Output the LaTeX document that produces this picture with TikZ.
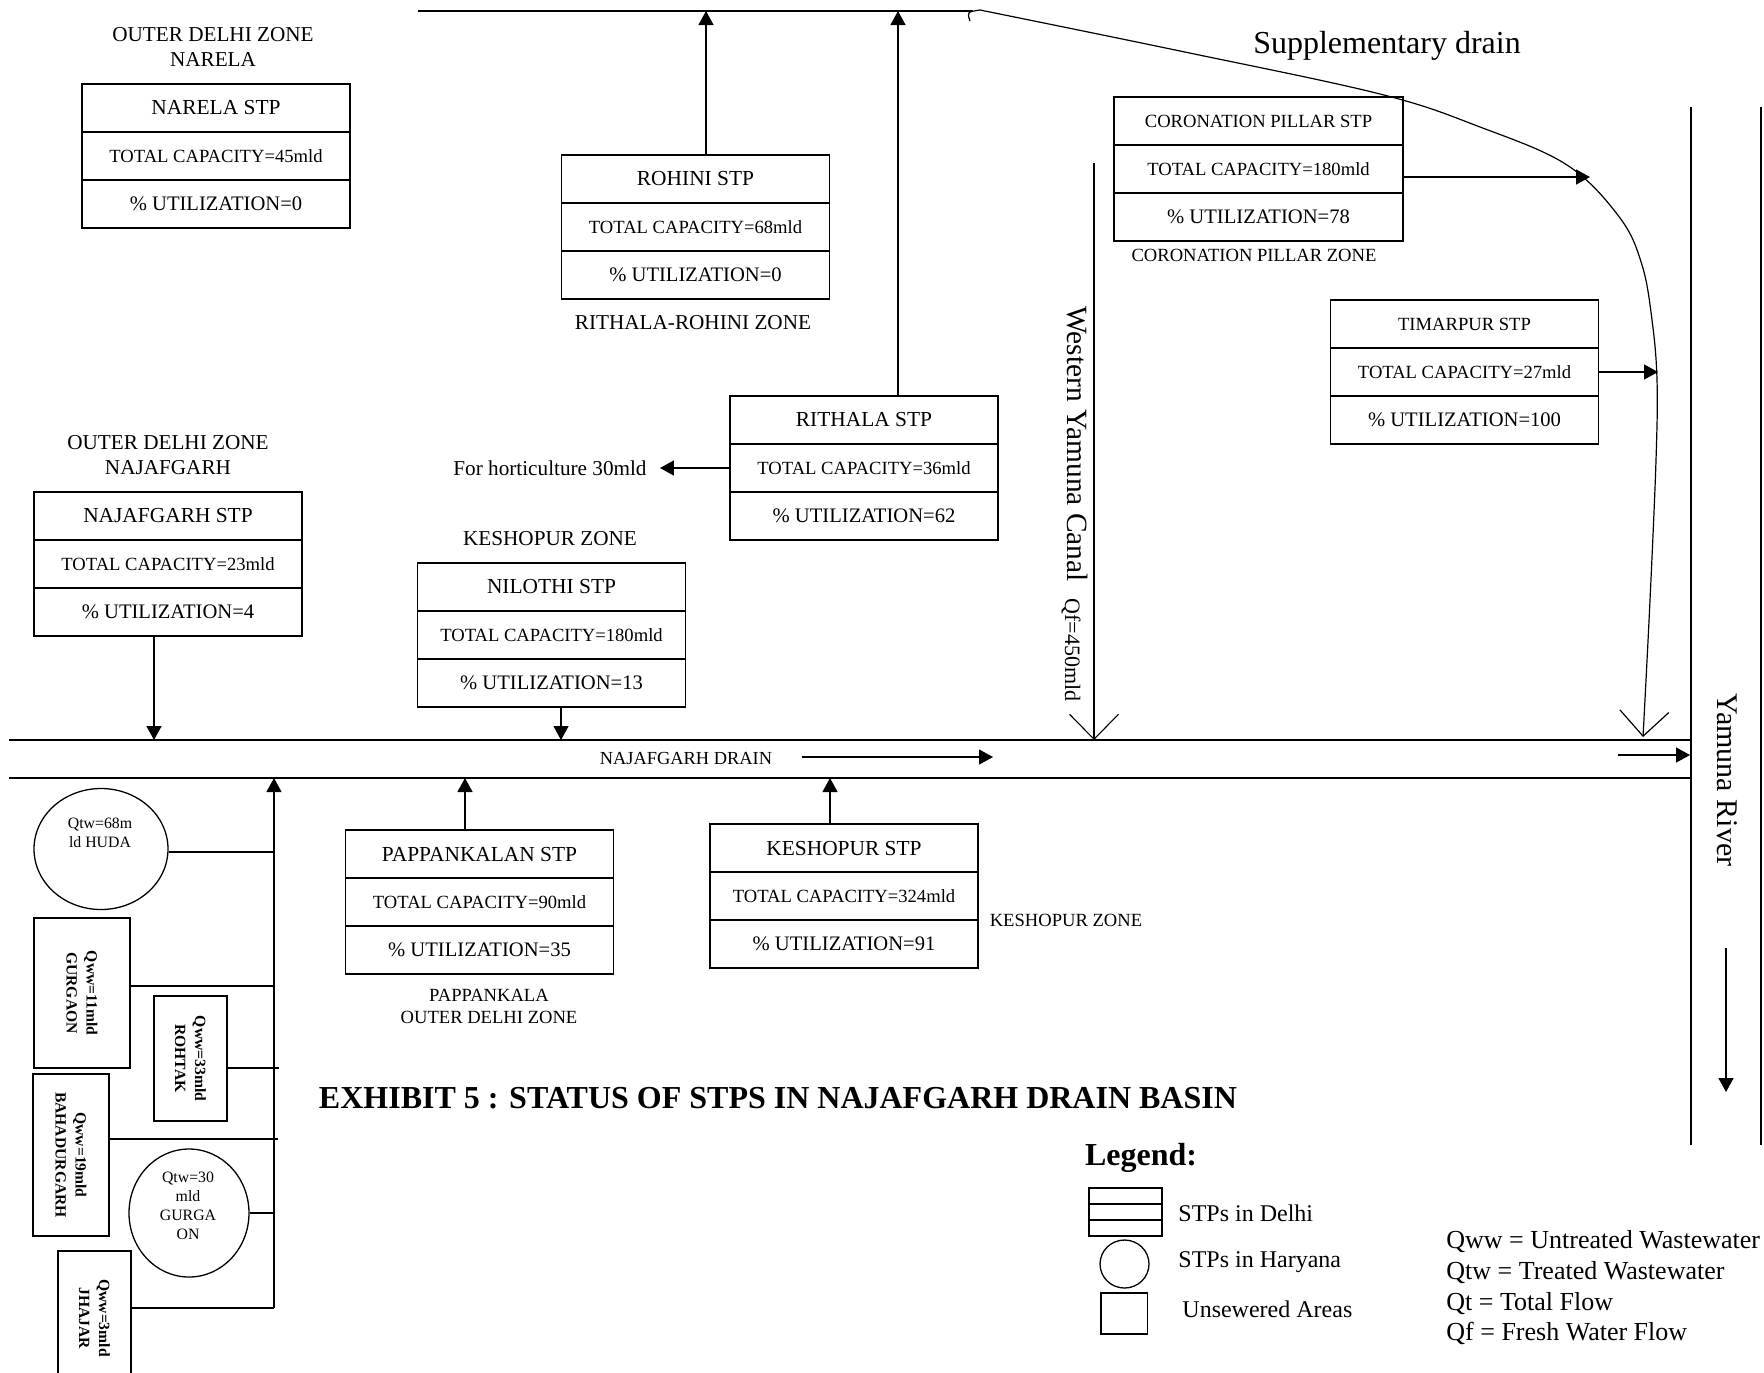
\documentclass[tikz,border=0pt]{standalone}
\usepackage{fontspec}
\setmainfont{Liberation Serif}
\usetikzlibrary{arrows.meta,positioning,shapes.geometric}
\tikzset{
  stprow/.style={
    draw,
    line width=0.65pt,
    minimum width=134pt,
    minimum height=24pt,
    inner sep=1pt,
    outer sep=0pt
  },
  stptitle/.style={font=\fontsize{10.7}{12}\selectfont},
  stpcap/.style={font=\fontsize{9.3}{11}\selectfont},
  stputil/.style={font=\fontsize{10.3}{12}\selectfont},
  zone/.style={font=\fontsize{10.6}{12.5}\selectfont, align=center, inner sep=0pt},
  zonesmall/.style={font=\fontsize{9.3}{11}\selectfont, align=center, inner sep=0pt},
  flow/.style={line width=0.65pt, -{Triangle[length=7pt,width=7.5pt]}},
  openflow/.style={line width=0.55pt, -{Straight Barb[length=12.5pt,width=24.5pt]}},
  drainline/.style={line width=0.85pt},
  hsite/.style={draw, ellipse, line width=0.65pt, inner sep=0pt},
  unsew/.style={draw, rectangle, line width=0.8pt, inner sep=0pt},
  rtext/.style={rotate=-90, align=center, font=\bfseries\fontsize{7.8}{10}\selectfont, inner sep=0pt},
  htext/.style={align=center, font=\fontsize{7.9}{9.5}\selectfont, inner sep=0pt},
  legtext/.style={anchor=west, inner sep=0pt, font=\fontsize{12}{14}\selectfont}
}
% one STP box = three stacked rows
\newcommand{\stpbox}[6][]{%
  \node[stprow,stptitle,#1,anchor=north] (#2-t) at (#3) {#4};
  \node[stprow,stpcap,#1,below=0pt of #2-t] (#2-c) {#5};
  \node[stprow,stputil,#1,below=0pt of #2-c] (#2-u) {#6};
}
\newcommand{\smallttl}{\fontsize{9.3}{11}\selectfont}

\begin{document}
\begin{tikzpicture}[x=0.5pt, y=-0.5pt]
  \useasboundingbox (0,0) rectangle (1764,1372);
  \clip (0,0) rectangle (1764,1372);

  % main channels
  \coordinate (top-l) at (418,11);
  \coordinate (top-r) at (973,11);
  \draw[line width=0.75pt] (top-l) -- (top-r);
  \coordinate (dt-l) at (9,740);
  \coordinate (dt-r) at (1691,740);
  \coordinate (db-l) at (9,778);
  \coordinate (db-r) at (1691,778);
  \draw[drainline] (dt-l) -- (dt-r) (db-l) -- (db-r);
  \node[font=\fontsize{9.2}{11}\selectfont] (drainlbl) at (686,758) {NAJAFGARH DRAIN};
  \draw[flow] (802,757) -- (993,757);
  \draw[flow] (1618,755) -- (1690,755);

  % Yamuna river
  \draw[line width=0.55pt] (1691,107) -- (1691,1145) (1761,107) -- (1761,1145);
  \node[rotate=-90, font=\fontsize{15}{18}\selectfont] (yamuna) at (1727,780) {Yamuna River};
  \draw[flow] (1726,948) -- (1726,1092);

  % Western Yamuna Canal
  \coordinate (wyc-top) at (1094,163);
  \draw[openflow] (wyc-top) -- (wyc-top |- dt-l);
  \node[rotate=-90, font=\fontsize{14.7}{17}\selectfont] (wyc) at (1077,444) {Western Yamuna Canal};
  \node[rotate=-90, font=\fontsize{11}{13}\selectfont] (qf) at (1071,650) {Qf=450mld};

  % Supplementary drain
  \draw[openflow, line width=0.6pt] (970,21) .. controls (967,12) .. (980,10)
    -- plot[smooth, tension=0.6] coordinates {(980,10) (1180,51) (1380,94) (1480,127) (1567,165)
    (1620,218) (1642,265) (1652,320) (1657,380) (1656,460) (1650,600) (1643,737)};
  \node[font=\fontsize{16}{19}\selectfont] (supp) at (1387,46) {Supplementary drain};
  \coordinate (sup-a) at (1590,178);
  \coordinate (sup-b) at (1658,372);

  % STPs in Delhi
  \stpbox{nar}{216,84}{NARELA STP}{TOTAL CAPACITY=45mld}{\% UTILIZATION=0}
  \stpbox{roh}{695.5,155}{ROHINI STP}{TOTAL CAPACITY=68mld}{\% UTILIZATION=0}
  \stpbox{rit}{864,396}{RITHALA STP}{TOTAL CAPACITY=36mld}{\% UTILIZATION=62}
  \stpbox[minimum width=144.5pt]{cor}{1258.5,97}{\smallttl CORONATION PILLAR STP}{TOTAL CAPACITY=180mld}{\% UTILIZATION=78}
  \stpbox{tim}{1464.5,300}{\smallttl TIMARPUR STP}{TOTAL CAPACITY=27mld}{\% UTILIZATION=100}
  \stpbox{naj}{168,492}{NAJAFGARH STP}{TOTAL CAPACITY=23mld}{\% UTILIZATION=4}
  \stpbox{nil}{551.5,563}{NILOTHI STP}{TOTAL CAPACITY=180mld}{\% UTILIZATION=13}
  \stpbox{pap}{479.5,830}{PAPPANKALAN STP}{TOTAL CAPACITY=90mld}{\% UTILIZATION=35}
  \stpbox{kes}{844,824}{KESHOPUR STP}{TOTAL CAPACITY=324mld}{\% UTILIZATION=91}

  % zone names
  \node[zone] (nar-z) at (213,47) {OUTER DELHI ZONE\\NARELA};
  \node[zone] (roh-z) at (693,323) {RITHALA-ROHINI ZONE};
  \node[zonesmall] (cor-z) at (1254,255) {CORONATION PILLAR ZONE};
  \node[zone] (naj-z) at (168,455) {OUTER DELHI ZONE\\NAJAFGARH};
  \node[zone] (nil-z) at (550,539) {KESHOPUR ZONE};
  \node[zonesmall] (pap-z) at (489,1006) {PAPPANKALA\\OUTER DELHI ZONE};
  \node[zonesmall] (kes-z) at (1066,920) {KESHOPUR ZONE};
  \node[zone] (hort) at (550,468) {For horticulture 30mld};

  % outfalls
  \draw[flow] ([xshift=5.25pt]roh-t.north) -- ([xshift=5.25pt]roh-t.north |- top-l);
  \draw[flow] ([xshift=17pt]rit-t.north) -- ([xshift=17pt]rit-t.north |- top-l);
  \draw[flow] (rit-c.west) -- ([xshift=6.5pt]hort.east);
  \draw[flow] ([yshift=-4pt]cor-c.east) -- ([yshift=-4pt]cor-c.east -| sup-a);
  \draw[flow] (tim-c.east) -- (tim-c.east -| sup-b);
  \draw[flow] ([xshift=-7pt]naj-u.south) -- ([xshift=-7pt]naj-u.south |- dt-l);
  \draw[flow] ([xshift=4.75pt]nil-u.south) -- ([xshift=4.75pt]nil-u.south |- dt-l);
  \draw[flow] ([xshift=-7.25pt]pap-t.north) -- ([xshift=-7.25pt]pap-t.north |- db-l);
  \draw[flow] ([xshift=-7pt]kes-t.north) -- ([xshift=-7pt]kes-t.north |- db-l);

  % Haryana side
  \coordinate (coll-b) at (274,1308);
  \coordinate (coll-t) at (274,778);
  \draw[flow] (coll-b) -- (coll-t);

  \node[hsite, minimum width=67pt, minimum height=60.5pt] (huda) at (101,849) {};
  \node[htext] (huda-txt) at (100,832.5) {Qtw=68m\\ld HUDA};
  \draw[line width=0.65pt] ([yshift=-1.5pt]huda.east) -- ([yshift=-1.5pt]huda.east -| coll-b);

  \node[unsew, minimum width=48pt, minimum height=75pt,
    label={[rtext]center:Qww=11mld\\GURGAON}] (gur-u) at (82,993) {};
  \draw[line width=0.65pt] ([yshift=3.5pt]gur-u.east) -- ([yshift=3.5pt]gur-u.east -| coll-b);

  \node[unsew, minimum width=36.5pt, minimum height=62.5pt,
    label={[rtext]center:Qww=33mld\\ROHTAK}] (roh-u) at (190.5,1058.5) {};
  \draw[line width=0.65pt] ([yshift=-4.75pt]roh-u.east) -- ++(25.5pt,0pt);

  \node[unsew, minimum width=38pt, minimum height=81pt,
    label={[rtext]center:Qww=19mld\\BAHADURGARH}] (bah-u) at (71,1155) {};
  \draw[line width=0.65pt] ([yshift=8pt]bah-u.east) -- ++(84pt,0pt);

  \node[hsite, minimum width=60pt, minimum height=64pt] (gur-q) at (189,1213) {};
  \node[htext] (gur-q-txt) at (188,1206) {Qtw=30\\mld\\GURGA\\ON};
  \draw[line width=0.65pt] (gur-q.east) -- (gur-q.east -| coll-b);

  \node[unsew, minimum width=36.5pt, minimum height=67pt,
    label={[rtext]center:Qww=3mld\\JHAJAR}] (jha-u) at (94.5,1318) {};
  \draw[line width=0.65pt] ([yshift=5pt]jha-u.east) -- (coll-b);

  % title
  \node[font=\bfseries\fontsize{16}{19}\selectfont] (title) at (778,1098)
    {EXHIBIT 5 : STATUS OF STPS IN NAJAFGARH DRAIN BASIN};

  % legend
  \node[font=\bfseries\fontsize{16}{19}\selectfont, inner sep=0pt] (legend) at (1141,1158) {Legend:};
  \stpbox[minimum width=36.5pt, minimum height=8pt, inner sep=0pt]{leg}{1125.5,1188}{}{}{}
  \node[legtext] (leg-delhi) at (1178,1213) {STPs in Delhi};
  \node[hsite, minimum width=24.5pt, minimum height=24pt] (leg-circ) at (1124.5,1264) {};
  \node[legtext] (leg-har) at (1178,1262) {STPs in Haryana};
  \node[unsew, minimum width=23.3pt, minimum height=20.5pt] (leg-sq) at (1124.3,1313.5) {};
  \node[legtext] (leg-uns) at (1182,1309) {Unsewered Areas};
  \node[anchor=west, align=left, inner sep=0pt, font=\fontsize{13}{15.35}\selectfont] (defs) at (1446,1288)
    {Qww = Untreated Wastewater\\Qtw = Treated Wastewater\\Qt = Total Flow\\Qf = Fresh Water Flow};
\end{tikzpicture}
\end{document}
